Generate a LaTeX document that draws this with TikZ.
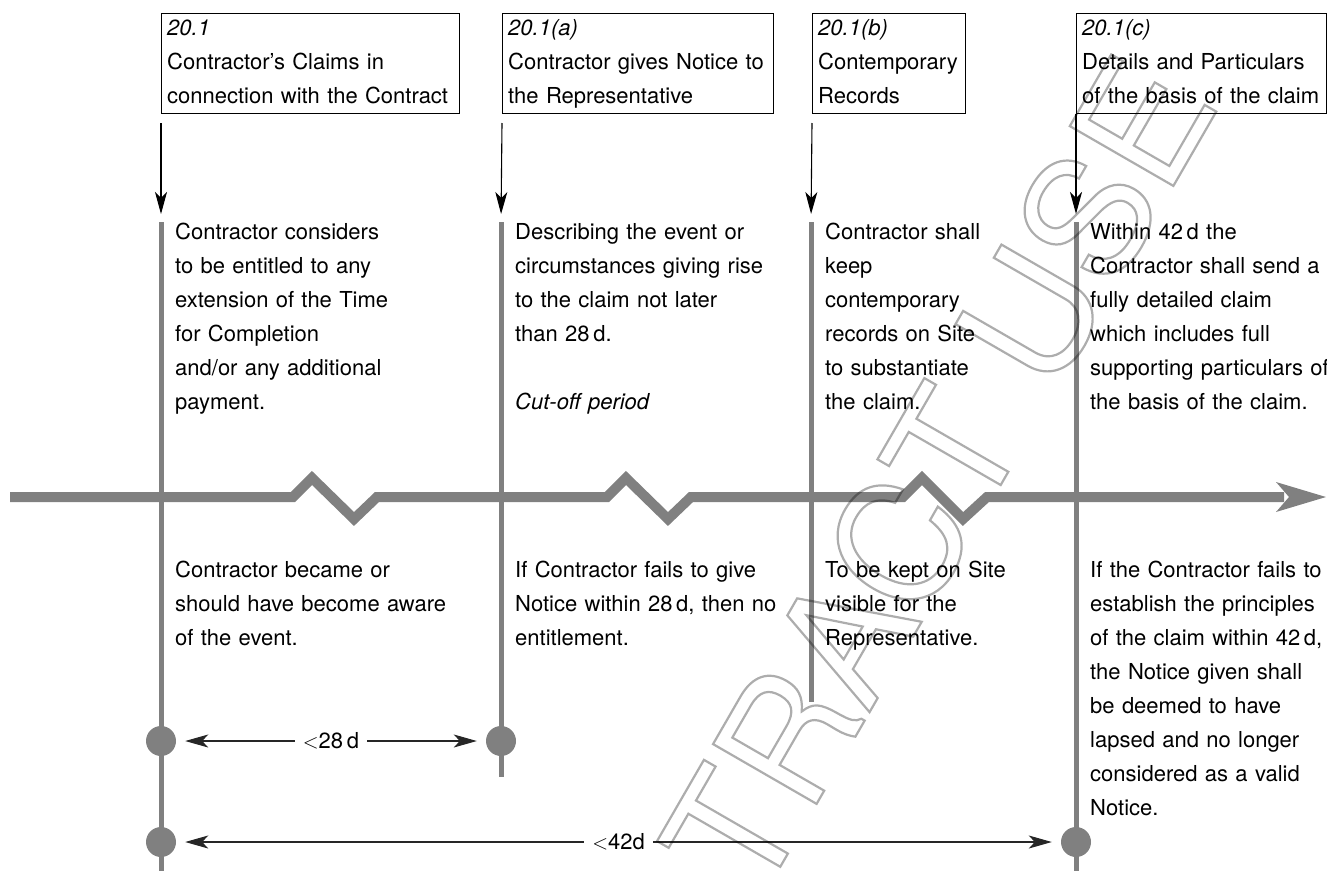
\documentclass[tikz,border=0pt]{standalone}
\usepackage{fontspec}
\setmainfont{TeX Gyre Heros}
\usetikzlibrary{arrows.meta,calc}
\definecolor{tl}{RGB}{128,128,128}
\tikzset{
  body/.style={font=\fontsize{22}{34}\selectfont, anchor=base west, inner sep=0pt,
    align=left, text width=300pt},
  clause/.style={draw=black, line width=1pt, inner sep=0pt, anchor=north west,
    minimum height=100pt},
  event/.style={draw=tl, line width=5pt},
  pointer/.style={draw=black, line width=1.1pt,
    -{Stealth[length=22pt,width=12pt,inset=6pt]}},
  span/.style={draw=black!85, line width=1.1pt,
    {Stealth[length=23pt,width=13pt,inset=6pt]}-{Stealth[length=23pt,width=13pt,inset=6pt]},
    shorten <=9pt, shorten >=9pt},
  spanlabel/.style={fill=white, inner xsep=8pt, inner ysep=2pt,
    font=\fontsize{22}{26}\selectfont},
  dot/.style={circle, fill=tl, minimum size=30pt, inner sep=0pt},
}
\begin{document}
\begin{tikzpicture}[x=1pt,y=-1pt]
\useasboundingbox (0,0) rectangle (1327,876);

% clause boxes
\node[clause, minimum width=298pt] (b1) at (161,13) {};
\node[clause, minimum width=271pt] (b2) at (502,13) {};
\node[clause, minimum width=153pt] (b3) at (812,13) {};
\node[clause, minimum width=250pt] (b4) at (1076,13) {};
\node[body] (b1t) at (167,35) {\textit{20.1}\\Contractor's Claims in\\connection with the Contract};
\node[body] (b2t) at (508,35) {\textit{20.1(a)}\\Contractor gives Notice to\\the Representative};
\node[body] (b3t) at (818,35) {\textit{20.1(b)}\\Contemporary\\Records};
\node[body] (b4t) at (1082,35) {\textit{20.1(c)}\\Details and Particulars\\of the basis of the claim};

% event lines
\coordinate (v1t) at (161,222); \coordinate (v1b) at (161,871);
\coordinate (v2t) at (501,222); \coordinate (v2b) at (501,777);
\coordinate (v3t) at (811,222); \coordinate (v3b) at (811,702);
\coordinate (v4t) at (1076,222); \coordinate (v4b) at (1076,871);

% time axis with breaks
\coordinate (ax0) at (10,497);
\coordinate (ax1) at (1284,497);
\draw[tl, line width=10pt, miter limit=10]
  (ax0) -- (293,497) -- (312,478) -- (354,519) -- (377,497)
  -- (607,497) -- (626,478) -- (668,519) -- (691,497)
  -- (903,497) -- (922,478) -- (963,519) -- (987,497) -- (ax1);
\fill[tl] (1326,497) -- (1276,482) -- (1289,497) -- (1276,512) -- cycle;

\foreach \i in {1,2,3,4} \draw[event] (v\i t) -- (v\i b);

% pointers from clauses to events
\draw[pointer, shorten >=8pt] ($(b1.south west)+(0,9)$) -- (v1t);
\draw[pointer, shorten >=8pt] ($(b2.south west)+(0,9)$) -- (v2t);
\draw[pointer, shorten >=8pt] ($(b3.south west)+(0,9)$) -- (v3t);
\draw[pointer, shorten >=8pt] (b4.south west) -- (v4t);

% text above the axis
\node[body] (u1) at (175,239) {Contractor considers\\to be entitled to any\\extension of the Time\\for Completion\\and/or any additional\\payment.};
\node[body] (u2) at (515,239) {Describing the event or\\circumstances giving rise\\to the claim not later\\than 28\,d.\\[34pt]\textit{Cut-off period}};
\node[body] (u3) at (825,239) {Contractor shall\\keep\\contemporary\\records on Site\\to substantiate\\the claim.};
\node[body] (u4) at (1090,239) {Within 42\,d the\\Contractor shall send a\\fully detailed claim\\which includes full\\supporting particulars of\\the basis of the claim.};

% text below the axis
\node[body] (l1) at (175,577) {Contractor became or\\should have become aware\\of the event.};
\node[body] (l2) at (515,577) {If Contractor fails to give\\Notice within 28\,d, then no\\entitlement.};
\node[body] (l3) at (825,577) {To be kept on Site\\visible for the\\Representative.};
\node[body] (l4) at (1090,577) {If the Contractor fails to\\establish the principles\\of the claim within 42\,d,\\the Notice given shall\\be deemed to have\\lapsed and no longer\\considered as a valid\\Notice.};

% deadlines
\node[dot] (d1) at (161,741) {};
\node[dot] (d2) at (501,741) {};
\node[dot] (d3) at (161,842) {};
\node[dot] (d4) at (1076,842) {};
\draw[span] (d1) -- node[spanlabel] (s1) {$<$28\,d} (d2);
\draw[span] (d3) -- node[spanlabel] (s2) {$<$42d} (d4);

% outlined stamp across the sheet
\node[rotate=60, font=\fontsize{164}{164}\selectfont, text=black, opacity=0.32, inner sep=0pt]
  (wm) at (938,474) {\special{pdf:literal direct 1 Tr 2.2 w}TRACT USE\special{pdf:literal direct 0 Tr}};
\end{tikzpicture}
\end{document}
